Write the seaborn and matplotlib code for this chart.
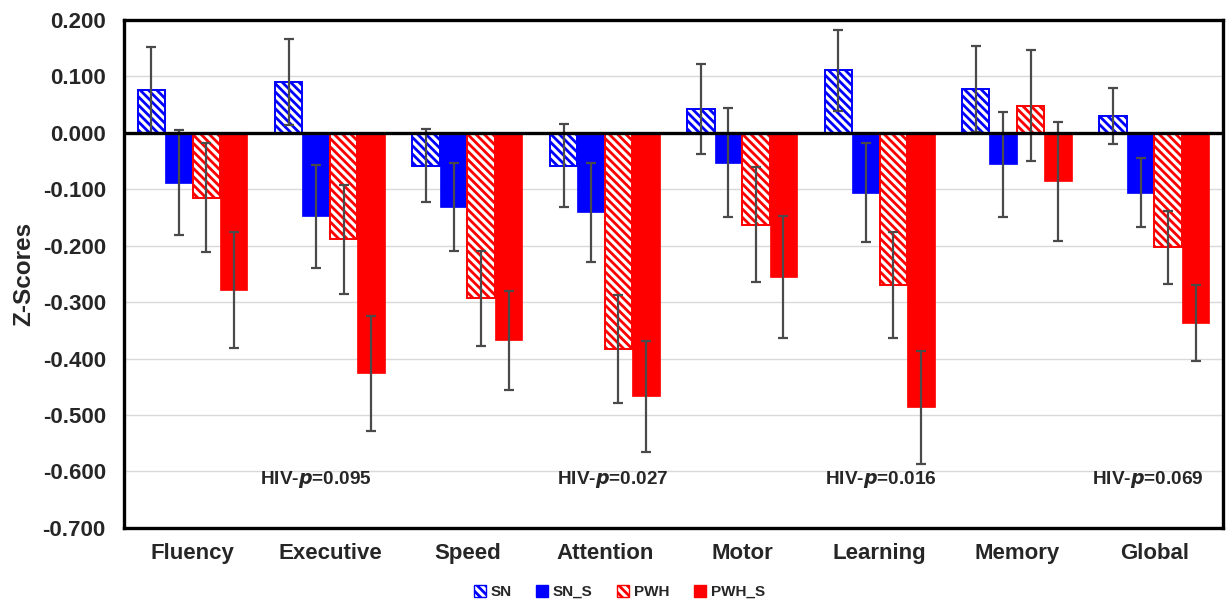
import matplotlib
matplotlib.use("Agg")
import matplotlib.pyplot as plt
import matplotlib.ticker as mticker
from matplotlib.patches import Patch
import seaborn as sns
import pandas as pd

categories = ["Fluency", "Executive", "Speed", "Attention", "Motor", "Learning", "Memory", "Global"]
groups = ["SN", "SN_S", "PWH", "PWH_S"]

sn_mean    = [0.076, 0.090, -0.058, -0.058, 0.042, 0.111, 0.078, 0.030]
sn_err     = [0.076, 0.076, 0.065, 0.074, 0.080, 0.072, 0.076, 0.050]
sns_mean   = [-0.088, -0.148, -0.132, -0.141, -0.053, -0.106, -0.056, -0.106]
sns_err    = [0.093, 0.091, 0.078, 0.088, 0.097, 0.088, 0.093, 0.061]
pwh_mean   = [-0.115, -0.189, -0.293, -0.383, -0.163, -0.270, 0.048, -0.203]
pwh_err    = [0.097, 0.097, 0.084, 0.095, 0.102, 0.094, 0.098, 0.065]
pwhs_mean  = [-0.278, -0.426, -0.368, -0.467, -0.256, -0.486, -0.086, -0.337]
pwhs_err   = [0.103, 0.102, 0.087, 0.098, 0.108, 0.100, 0.105, 0.068]

annot_texts = ["0.095", "0.027", "0.016", "0.069"]
annot_x = [0.90, 3.06, 5.01, 6.95]
annot_y = -0.615

means = [sn_mean, sns_mean, pwh_mean, pwhs_mean]
errs = [sn_err, sns_err, pwh_err, pwhs_err]

rows = []
for g, m in zip(groups, means):
    for c, v in zip(categories, m):
        rows.append({"Domain": c, "Group": g, "Z": v})
df = pd.DataFrame(rows)

sns.set_style("white")
plt.rcParams['font.family'] = ['Liberation Sans', 'DejaVu Sans']
plt.rcParams['font.weight'] = 'bold'
plt.rcParams['axes.unicode_minus'] = False
plt.rcParams['hatch.linewidth'] = 2.0

BLUE = "#0000ff"
RED = "#ff0000"
palette = {"SN": BLUE, "SN_S": BLUE, "PWH": RED, "PWH_S": RED}
hatched = {"SN": True, "SN_S": False, "PWH": True, "PWH_S": False}
HATCH = "\\" * 4

fig = plt.figure(figsize=(12.26, 6.06), dpi=100)
ax = fig.add_axes([0.101, 0.129, 0.8966, 0.838])

sns.barplot(data=df, x="Domain", y="Z", hue="Group", order=categories,
            hue_order=groups, palette=palette, errorbar=None, width=0.8,
            saturation=1, ax=ax, legend=False, zorder=2)

for g, cont, e in zip(groups, ax.containers, errs):
    col = palette[g]
    xs, hs = [], []
    for p in cont.patches:
        if hatched[g]:
            p.set_facecolor("white")
            p.set_edgecolor(col)
            p.set_hatch(HATCH)
            p.set_linewidth(1.4)
        else:
            p.set_facecolor(col)
            p.set_edgecolor(col)
            p.set_linewidth(0.5)
        xs.append(p.get_x() + p.get_width() / 2)
        hs.append(p.get_height())
    ax.errorbar(xs, hs, yerr=e, fmt="none",
                ecolor="#4a4a4a", elinewidth=1.6, capsize=3.5, capthick=1.6, zorder=3)

ax.set_ylim(-0.7, 0.2)
ax.set_xlim(-0.5, len(categories) - 0.5)
ax.yaxis.set_major_locator(mticker.MultipleLocator(0.1))
ax.yaxis.set_major_formatter(mticker.FormatStrFormatter('%.3f'))
ax.grid(axis="y", color="#d9d9d9", linewidth=1.0, zorder=0)
ax.set_axisbelow(True)
ax.axhline(0, color="black", linewidth=2.4, zorder=4)

for s in ax.spines.values():
    s.set_visible(True)
    s.set_color("black")
    s.set_linewidth(2.4)

ax.tick_params(axis="both", length=0)
ax.tick_params(axis="y", labelsize=16, pad=13)
ax.tick_params(axis="x", labelsize=16, pad=11)
for lab in ax.get_xticklabels() + ax.get_yticklabels():
    lab.set_fontweight("bold")
ax.set_xlabel("")
ax.set_ylabel("Z-Scores", fontsize=17.5, fontweight="bold", labelpad=5)

for t, x in zip(annot_texts, annot_x):
    ax.text(x, annot_y, r"HIV-$\boldsymbol{\it{p}}$=" + t, ha="center", va="center",
            fontsize=13.7, fontweight="bold")

handles = []
for g in groups:
    if hatched[g]:
        handles.append(Patch(facecolor="white", edgecolor=palette[g], hatch=HATCH, linewidth=1.0, label=g))
    else:
        handles.append(Patch(facecolor=palette[g], edgecolor=palette[g], label=g))
leg = fig.legend(handles=handles, loc="center", bbox_to_anchor=(0.505, 0.023), ncol=4,
                 frameon=False, handlelength=0.8, handleheight=0.8,
                 handletextpad=0.3, columnspacing=1.6, prop={"weight": "bold", "size": 11})

fig.savefig("out.png", dpi=100)
